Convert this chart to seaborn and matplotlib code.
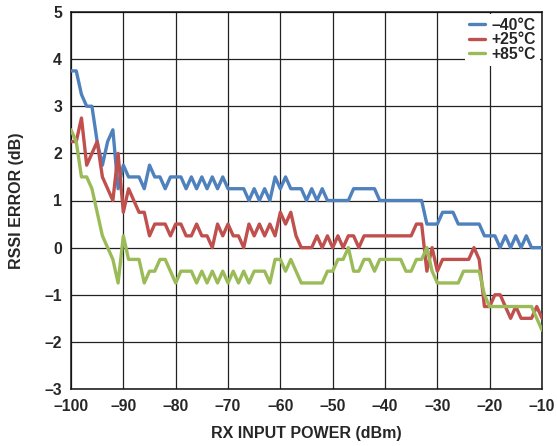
import numpy as np
import pandas as pd
import matplotlib
matplotlib.use("Agg")
import matplotlib.pyplot as plt
import seaborn as sns
from matplotlib.ticker import FixedLocator, FixedFormatter

# RX input power sweep (dBm), 1 dB steps
power_dbm = list(range(-100, -9))

# RSSI error (dB) at each temperature
err_m40 = [3.75, 3.75, 3.25, 3.0, 3.0, 2.25, 1.75, 2.25, 2.5, 1.25,
           1.75, 1.5, 1.5, 1.5, 1.25, 1.75, 1.5, 1.5, 1.25, 1.5,
           1.5, 1.5, 1.25, 1.5, 1.25, 1.5, 1.25, 1.5, 1.25, 1.5,
           1.25, 1.25, 1.25, 1.25, 1.0, 1.25, 1.0, 1.25, 1.0, 1.5,
           1.25, 1.5, 1.25, 1.25, 1.25, 1.0, 1.25, 1.0, 1.25, 1.0,
           1.0, 1.0, 1.0, 1.0, 1.25, 1.25, 1.25, 1.25, 1.25, 1.0,
           1.0, 1.0, 1.0, 1.0, 1.0, 1.0, 1.0, 1.0, 0.5, 0.5,
           0.5, 0.75, 0.75, 0.75, 0.5, 0.5, 0.5, 0.5, 0.5, 0.25,
           0.25, 0.25, 0.0, 0.25, 0.0, 0.25, 0.0, 0.25, 0.0, 0.0,
           0.0]
err_p25 = [2.25, 2.25, 2.75, 1.75, 2.0, 2.25, 1.5, 1.25, 1.0, 2.0,
           0.75, 1.25, 1.0, 0.75, 0.75, 0.25, 0.5, 0.5, 0.5, 0.25,
           0.5, 0.5, 0.25, 0.25, 0.5, 0.25, 0.25, 0.0, 0.5, 0.25,
           0.5, 0.25, 0.25, 0.0, 0.5, 0.25, 0.5, 0.25, 0.5, 0.25,
           0.75, 0.5, 0.75, 0.25, 0.0, 0.0, 0.0, 0.25, 0.0, 0.25,
           0.0, 0.25, 0.0, 0.25, 0.25, 0.0, 0.25, 0.25, 0.25, 0.25,
           0.25, 0.25, 0.25, 0.25, 0.25, 0.25, 0.5, 0.5, -0.5, 0.0,
           -0.5, -0.25, -0.25, -0.25, -0.25, -0.25, -0.25, 0.0, -0.25, -1.25,
           -1.25, -1.0, -1.0, -1.25, -1.5, -1.25, -1.5, -1.5, -1.5, -1.25,
           -1.5]
err_p85 = [2.5, 2.25, 1.5, 1.5, 1.25, 0.75, 0.25, 0.0, -0.25, -0.75,
           0.25, -0.25, -0.25, -0.25, -0.75, -0.5, -0.5, -0.25, -0.25, -0.5,
           -0.75, -0.5, -0.5, -0.5, -0.75, -0.5, -0.75, -0.5, -0.75, -0.5,
           -0.75, -0.5, -0.75, -0.5, -0.75, -0.5, -0.5, -0.5, -0.75, -0.25,
           -0.25, -0.5, -0.25, -0.5, -0.75, -0.75, -0.75, -0.75, -0.75, -0.5,
           -0.5, -0.25, -0.25, 0.0, -0.5, -0.5, -0.25, -0.25, -0.5, -0.25,
           -0.25, -0.25, -0.25, -0.25, -0.5, -0.5, -0.25, -0.25, 0.0, -0.5,
           -0.75, -0.75, -0.75, -0.75, -0.75, -0.5, -0.5, -0.5, -0.5, -1.0,
           -1.25, -1.25, -1.25, -1.25, -1.25, -1.25, -1.25, -1.25, -1.25, -1.5,
           -1.75]

series_names = ["\u201340\u00b0C", "+25\u00b0C", "+85\u00b0C"]
series_colors = ["#4F81BD", "#C0504D", "#9BBB59"]

x_ticks = list(range(-100, -9, 10))
x_tick_labels = ["\u2013100", "\u201390", "\u201380", "\u201370", "\u201360",
                 "\u201350", "\u201340", "\u201330", "\u201320", "\u201310"]
y_ticks = list(range(-3, 6))
y_tick_labels = ["\u20133", "\u20132", "\u20131", "0", "1", "2", "3", "4", "5"]

frames = []
for name, vals in zip(series_names, [err_m40, err_p25, err_p85]):
    frames.append(pd.DataFrame({"power": power_dbm, "error": vals, "temp": name}))
df = pd.concat(frames, ignore_index=True)

sns.set_style("white")
plt.rcParams["font.family"] = ["Liberation Sans", "DejaVu Sans"]
plt.rcParams["font.weight"] = "bold"

W, H = 557, 446
fig = plt.figure(figsize=(W / 100, H / 100), dpi=100)
ax = fig.add_axes([71 / W, 1 - 389 / H, 471 / W, 377 / H])

sns.lineplot(data=df, x="power", y="error", hue="temp", hue_order=series_names,
             palette=series_colors, linewidth=2.4, ax=ax, zorder=3)

ax.set_xlim(-100, -10)
ax.set_ylim(-3, 5)
ax.xaxis.set_major_locator(FixedLocator(x_ticks))
ax.xaxis.set_major_formatter(FixedFormatter(x_tick_labels))
ax.yaxis.set_major_locator(FixedLocator(y_ticks))
ax.yaxis.set_major_formatter(FixedFormatter(y_tick_labels))
ax.grid(True, color="#222222", linewidth=0.9)
ax.set_axisbelow(True)
for s in ax.spines.values():
    s.set_color("#111111")
    s.set_linewidth(1.1)
ax.tick_params(axis="x", length=0, pad=7, labelsize=11.3)
ax.tick_params(axis="y", length=0, pad=6.5, labelsize=11.3)
for lbl in ax.get_xticklabels() + ax.get_yticklabels():
    lbl.set_fontweight("bold")

ax.set_xlabel("RX INPUT POWER (dBm)", fontsize=11.5, fontweight="bold", labelpad=9)
ax.set_ylabel("RSSI ERROR (dB)", fontsize=11.5, fontweight="bold", labelpad=15)

leg = ax.legend(loc="upper right", frameon=True, fontsize=11.3, handlelength=1.0,
                handletextpad=0.45, labelspacing=-0.03, borderpad=0.25,
                borderaxespad=0.0,
                bbox_to_anchor=(540 / W, 1 - 14 / H), bbox_transform=fig.transFigure)
leg.get_frame().set_facecolor("white")
leg.get_frame().set_edgecolor("none")
leg.get_frame().set_alpha(1.0)
leg.get_frame().set_boxstyle("square", pad=0.0)
for t in leg.get_texts():
    t.set_fontweight("bold")
for h in leg.get_lines():
    h.set_linewidth(2.4)

fig.savefig("out.png", dpi=100)
